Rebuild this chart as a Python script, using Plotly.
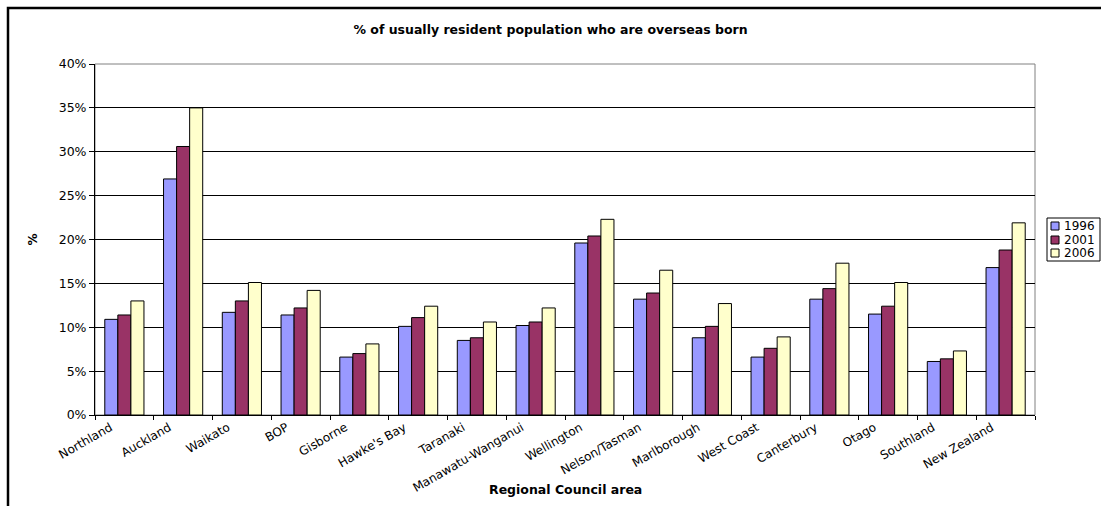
import plotly.graph_objects as go

categories = ["Northland", "Auckland", "Waikato", "BOP", "Gisborne", "Hawke's Bay",
              "Taranaki", "Manawatu-Wanganui", "Wellington", "Nelson/Tasman",
              "Marlborough", "West Coast", "Canterbury", "Otago", "Southland", "New Zealand"]
years = ["1996", "2001", "2006"]
v1996 = [10.9, 26.9, 11.7, 11.4, 6.6, 10.1, 8.5, 10.2, 19.6, 13.2, 8.8, 6.6, 13.2, 11.5, 6.1, 16.8]
v2001 = [11.4, 30.6, 13.0, 12.2, 7.0, 11.1, 8.8, 10.6, 20.4, 13.9, 10.1, 7.6, 14.4, 12.4, 6.4, 18.8]
v2006 = [13.0, 35.0, 15.1, 14.2, 8.1, 12.4, 10.6, 12.2, 22.3, 16.5, 12.7, 8.9, 17.3, 15.1, 7.3, 21.9]
series = [v1996, v2001, v2006]
colors = ["#9999FF", "#993366", "#FFFFCC"]

FONT = "DejaVu Sans, Liberation Sans, Arial"

fig = go.Figure()
for name, vals, col in zip(years, series, colors):
    fig.add_trace(go.Bar(
        x=categories, y=[v / 100 for v in vals], name=name, showlegend=False,
        marker=dict(color=col, line=dict(color="black", width=1)),
    ))

W, H = 1101, 506
L, R, T, B = 95, 66, 64, 91
pw, ph = W - L - R, H - T - B

def px_x(x):
    return (x - L) / pw

def px_y(y):
    return (H - B - y) / ph

shapes = [
    dict(type="rect", xref="paper", yref="paper", x0=0, x1=1, y0=0, y1=1,
         line=dict(color="#808080", width=1), layer="below"),
    dict(type="rect", xref="paper", yref="paper",
         x0=px_x(8), x1=px_x(1110), y0=px_y(8), y1=px_y(520),
         line=dict(color="black", width=2.5)),
    # legend box
    dict(type="rect", xref="paper", yref="paper",
         x0=px_x(1047), x1=px_x(1100), y0=px_y(261), y1=px_y(218),
         line=dict(color="black", width=1), fillcolor="white"),
]
annotations = [
    dict(text="<b>Regional Council area</b>", xref="paper", yref="paper",
         x=px_x(565), y=px_y(490), xanchor="center", yanchor="middle",
         showarrow=False, font=dict(size=12.5)),
]
legend_y = [226, 240, 253]
for name, col, yy in zip(years, colors, legend_y):
    shapes.append(dict(type="rect", xref="paper", yref="paper",
                       x0=px_x(1051), x1=px_x(1059), y0=px_y(yy + 4), y1=px_y(yy - 4),
                       line=dict(color="black", width=1), fillcolor=col))
    annotations.append(dict(text=name, xref="paper", yref="paper",
                            x=px_x(1062), y=px_y(yy), xanchor="left", yanchor="middle",
                            showarrow=False, font=dict(size=12)))

fig.update_layout(
    width=W, height=H,
    margin=dict(l=L, r=R, t=T, b=B, pad=0, autoexpand=False),
    paper_bgcolor="white", plot_bgcolor="white",
    font=dict(family=FONT, size=12, color="black"),
    barmode="group", bargap=1.5 / 4.5, bargroupgap=0,
    title=dict(text="<b>% of usually resident population who are overseas born</b>",
               x=0.5, xanchor="center", y=1 - 30 / H, yanchor="middle",
               font=dict(size=12.5)),
    xaxis=dict(
        tickangle=-30, tickson="boundaries", ticks="outside", ticklen=4,
        tickcolor="black", showline=True, linecolor="black", linewidth=1,
        showgrid=False, tickfont=dict(size=12), ticklabelshift=-14,
        automargin=False,
    ),
    yaxis=dict(
        title=dict(text="<b>%</b>", font=dict(size=12), standoff=18),
        range=[0, 0.4], dtick=0.05, tickformat=".0%",
        ticks="outside", ticklen=5, tickcolor="black",
        showline=True, linecolor="black", linewidth=1,
        showgrid=True, gridcolor="black", gridwidth=1, zeroline=False,
        tickfont=dict(size=12.5), automargin=False,
    ),
    showlegend=False,
    shapes=shapes,
    annotations=annotations,
)

fig.write_html("out.html")
